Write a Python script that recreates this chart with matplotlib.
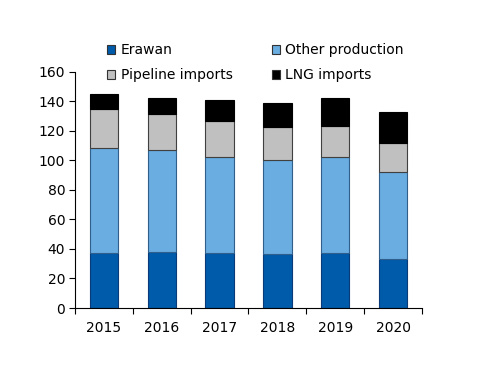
import matplotlib
matplotlib.use("Agg")
import matplotlib.pyplot as plt
from matplotlib.patches import Patch
import numpy as np

years = ["2015", "2016", "2017", "2018", "2019", "2020"]
erawan = [37.4, 37.9, 37.4, 36.7, 37.6, 33.3]
other_production = [71.2, 68.9, 65.1, 63.3, 64.9, 59.1]
pipeline_imports = [26.4, 24.4, 24.1, 22.6, 20.8, 19.6]
lng_imports = [9.8, 10.8, 14.2, 16.4, 18.7, 20.7]

series = [
    ("Erawan", erawan, "#005BAA", "#0a3a78"),
    ("Other production", other_production, "#6AADE0", "#2f5f8a"),
    ("Pipeline imports", pipeline_imports, "#C0C0C0", "#404040"),
    ("LNG imports", lng_imports, "#000000", "#000000"),
]

plt.rcParams['font.family'] = ['DejaVu Sans']
fig = plt.figure(figsize=(5.0, 3.86), dpi=100)
ax = fig.add_axes([0.15, 0.202, 0.694, 0.612])

x = np.arange(len(years))
bottom = np.zeros(len(years))
handles = []
for name, vals, col, ec in series:
    ax.bar(x, vals, width=0.49, bottom=bottom, color=col,
           edgecolor=ec, linewidth=0.8, zorder=2)
    bottom += np.array(vals)
    handles.append(Patch(facecolor=col, edgecolor="#333333", linewidth=0.8, label=name))

ax.set_xlim(-0.5, len(years) - 0.5)
ax.set_ylim(0, 160)
ax.set_yticks(np.arange(0, 161, 20))
ax.set_xticks(x)
ax.set_xticklabels(years)
ax.set_xticks(np.arange(-0.5, len(years), 1.0), minor=True)
ax.tick_params(axis='x', which='major', length=0, pad=9, labelsize=10)
ax.tick_params(axis='x', which='minor', length=4, width=0.8, direction='out')
ax.tick_params(axis='y', length=4, width=0.8, direction='out', pad=3, labelsize=10)
for s in ["top", "right"]:
    ax.spines[s].set_visible(False)
for s in ["left", "bottom"]:
    ax.spines[s].set_linewidth(0.8)

# legend order: row1 Erawan, Other production; row2 Pipeline, LNG
order = [handles[0], handles[2], handles[1], handles[3]]
fig.legend(handles=order, loc='upper left', bbox_to_anchor=(0.2, 0.906),
           ncol=2, frameon=False, fontsize=10, handlelength=0.6, handleheight=0.6,
           handletextpad=0.4, columnspacing=2.8, labelspacing=0.8, borderpad=0)

fig.savefig("out.png", dpi=100)
